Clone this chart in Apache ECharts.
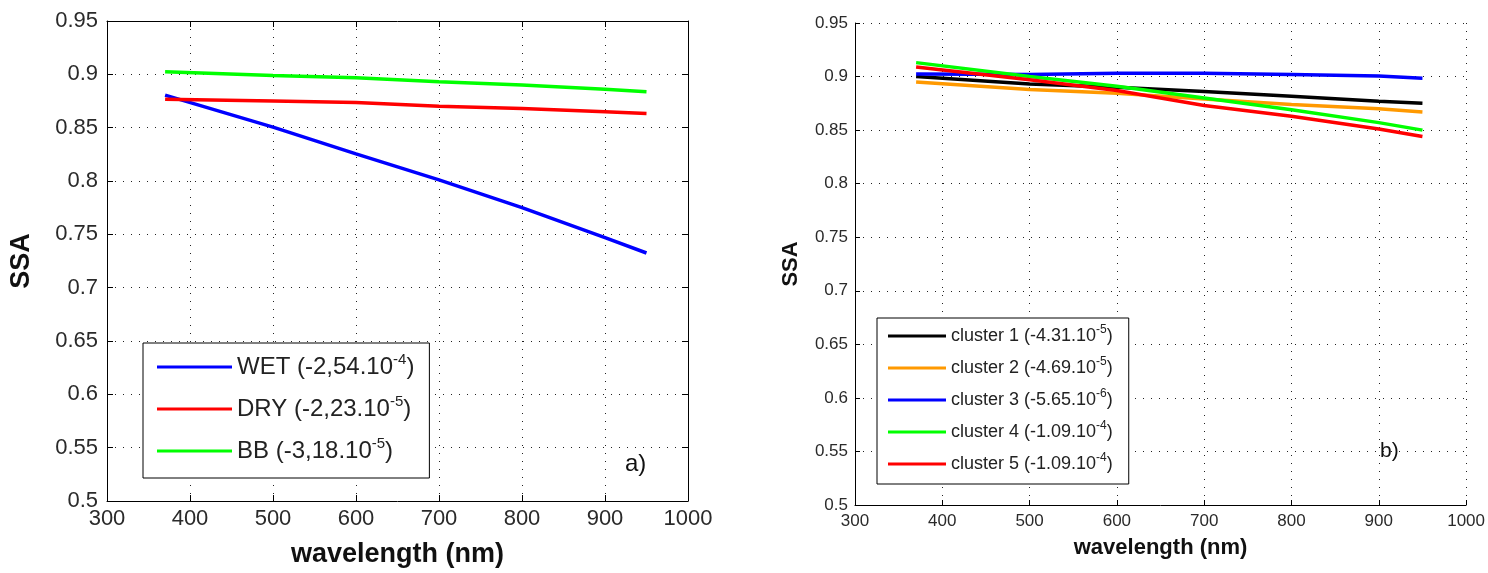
<!DOCTYPE html>
<html><head><meta charset="utf-8">
<script src="https://cdn.jsdelivr.net/npm/echarts@6/dist/echarts.min.js"></script>
<style>html,body{margin:0;padding:0;background:#fff}#c{width:1488px;height:573px}</style>
</head><body><div id="c"></div>
<script>
// ---- data ----
const wavelengths = [370, 500, 600, 700, 800, 900, 950];
const xTicks = [300, 400, 500, 600, 700, 800, 900, 1000];
const yTicks = [0.5, 0.55, 0.6, 0.65, 0.7, 0.75, 0.8, 0.85, 0.9, 0.95];

const wetSSA = [0.8805, 0.8505, 0.8255, 0.801, 0.775, 0.747, 0.7325];
const drySSA = [0.8766, 0.875, 0.8735, 0.870, 0.868, 0.865, 0.8633];
const bbSSA  = [0.9025, 0.899, 0.8967, 0.893, 0.890, 0.886, 0.8837];

const cluster1SSA = [0.900, 0.893, 0.890, 0.886, 0.8815, 0.877, 0.875];
const cluster2SSA = [0.895, 0.888, 0.8845, 0.879, 0.874, 0.870, 0.867];
const cluster3SSA = [0.9025, 0.902, 0.903, 0.903, 0.902, 0.9005, 0.8985];
const cluster4SSA = [0.913, 0.900, 0.891, 0.880, 0.869, 0.857, 0.850];
const cluster5SSA = [0.909, 0.897, 0.887, 0.873, 0.863, 0.851, 0.844];

const leftNames = ['WET', 'DRY', 'BB'];
const leftCoefs = ['-2,54.10', '-2,23.10', '-3,18.10'];
const leftExps  = ['-4', '-5', '-5'];
const rightNames = ['cluster 1', 'cluster 2', 'cluster 3', 'cluster 4', 'cluster 5'];
const rightCoefs = ['-4.31.10', '-4.69.10', '-5.65.10', '-1.09.10', '-1.09.10'];
const rightExps  = ['-5', '-5', '-6', '-4', '-4'];

// ---- build ----
const pairs = arr => arr.map((v, i) => [wavelengths[i], v]);
const FONT = 'Liberation Sans, Arial, sans-serif';
const dotted = { color: '#222', width: 1, type: [1, 7] };
const labelMap = {};
leftNames.forEach((n, i) => labelMap[n] = n + ' (' + leftCoefs[i] + '{sup|' + leftExps[i] + '})');
rightNames.forEach((n, i) => labelMap[n] = n + ' (' + rightCoefs[i] + '{sup|' + rightExps[i] + '})');

function xAx(grid, opts) {
  return Object.assign({
    gridIndex: grid, type: 'value', min: xTicks[0], max: xTicks[xTicks.length - 1], interval: 100,
    axisLine: { show: true, onZero: false, lineStyle: { color: '#000', width: 1 } },
    axisTick: { show: true, inside: true, length: 6, lineStyle: { color: '#000' } },
    splitLine: { show: false }
  }, opts);
}
function yAx(grid, opts) {
  return Object.assign({
    gridIndex: grid, type: 'value', min: yTicks[0], max: yTicks[yTicks.length - 1], interval: 0.05,
    axisLine: { show: true, onZero: false, lineStyle: { color: '#000', width: 1 } },
    axisTick: { show: true, inside: true, length: 6, lineStyle: { color: '#000' } },
    splitLine: { show: false }
  }, opts);
}
const yFmt = v => String(+v.toFixed(2));
const xFmt = v => String(Math.round(v));

const option = {
  backgroundColor: '#fff',
  animation: false,
  textStyle: { fontFamily: FONT },
  grid: [
    { left: 107, top: 21, width: 581, height: 484 },
    { left: 855, top: 23, width: 614, height: 482 }
  ],
  xAxis: [
    xAx(0, { position: 'bottom',
      axisLabel: { fontSize: 22, color: '#2a2a2a', margin: 7, fontFamily: FONT, formatter: xFmt },
      splitLine: { show: true, lineStyle: dotted },
      name: 'wavelength (nm)', nameLocation: 'middle', nameGap: 40,
      nameTextStyle: { fontSize: 27, fontWeight: 'bold', color: '#111', fontFamily: FONT } }),
    xAx(0, { position: 'top', axisLabel: { show: false } }),
    xAx(1, { position: 'bottom',
      axisTick: { show: true, inside: true, length: 5, lineStyle: { color: '#000' } },
      axisLabel: { fontSize: 17, color: '#2a2a2a', margin: 8, fontFamily: FONT, formatter: xFmt },
      splitLine: { show: true, lineStyle: dotted },
      name: 'wavelength (nm)', nameLocation: 'middle', nameGap: 32,
      nameTextStyle: { fontSize: 22, fontWeight: 'bold', color: '#111', fontFamily: FONT } })
  ],
  yAxis: [
    yAx(0, { position: 'left',
      axisLabel: { fontSize: 22, color: '#2a2a2a', margin: 9, fontFamily: FONT, formatter: yFmt },
      splitLine: { show: true, lineStyle: dotted },
      name: 'SSA', nameLocation: 'middle', nameGap: 72,
      nameTextStyle: { fontSize: 27, fontWeight: 'bold', color: '#111', fontFamily: FONT } }),
    yAx(0, { position: 'right', axisLabel: { show: false } }),
    yAx(1, { position: 'left',
      axisTick: { show: true, inside: true, length: 5, lineStyle: { color: '#000' } },
      axisLabel: { fontSize: 17, color: '#2a2a2a', margin: 7, fontFamily: FONT, formatter: yFmt },
      splitLine: { show: true, lineStyle: dotted },
      name: 'SSA', nameLocation: 'middle', nameGap: 53,
      nameTextStyle: { fontSize: 22, fontWeight: 'bold', color: '#111', fontFamily: FONT } })
  ],
  legend: [
    { data: leftNames, orient: 'vertical', left: 143, top: 343,
      icon: 'rect', itemWidth: 75, itemHeight: 3, itemGap: 12,
      padding: [9, 15, 12, 14], borderColor: '#000', borderWidth: 1, backgroundColor: '#fff',
      selectedMode: false,
      formatter: n => labelMap[n],
      textStyle: { fontSize: 24, color: '#222', lineHeight: 30, fontFamily: FONT,
        rich: { sup: { fontSize: 15, color: '#222', verticalAlign: 'top', lineHeight: 15, fontFamily: FONT } } } },
    { data: rightNames, orient: 'vertical', left: 877, top: 318,
      icon: 'rect', itemWidth: 58, itemHeight: 3, itemGap: 8,
      padding: [6, 16, 8, 11], borderColor: '#000', borderWidth: 1, backgroundColor: '#fff',
      selectedMode: false,
      formatter: n => labelMap[n],
      textStyle: { fontSize: 18, color: '#222', lineHeight: 24, fontFamily: FONT,
        rich: { sup: { fontSize: 12, color: '#222', verticalAlign: 'top', lineHeight: 12, fontFamily: FONT } } } }
  ],
  graphic: [
    { type: 'text', left: 625, top: 452, style: { text: 'a)', fontSize: 24, fill: '#111', fontFamily: FONT } },
    { type: 'text', left: 1380, top: 441, style: { text: 'b)', fontSize: 21, fill: '#111', fontFamily: FONT } }
  ],
  series: [
    { name: 'WET', type: 'line', xAxisIndex: 0, yAxisIndex: 0, data: pairs(wetSSA), color: '#0000ff' },
    { name: 'DRY', type: 'line', xAxisIndex: 0, yAxisIndex: 0, data: pairs(drySSA), color: '#ff0000' },
    { name: 'BB', type: 'line', xAxisIndex: 0, yAxisIndex: 0, data: pairs(bbSSA), color: '#00ff00' },
    { name: 'cluster 1', type: 'line', xAxisIndex: 2, yAxisIndex: 2, data: pairs(cluster1SSA), color: '#000000' },
    { name: 'cluster 2', type: 'line', xAxisIndex: 2, yAxisIndex: 2, data: pairs(cluster2SSA), color: '#ff9900' },
    { name: 'cluster 3', type: 'line', xAxisIndex: 2, yAxisIndex: 2, data: pairs(cluster3SSA), color: '#0000ff' },
    { name: 'cluster 4', type: 'line', xAxisIndex: 2, yAxisIndex: 2, data: pairs(cluster4SSA), color: '#00ff00' },
    { name: 'cluster 5', type: 'line', xAxisIndex: 2, yAxisIndex: 2, data: pairs(cluster5SSA), color: '#ff0000' }
  ].map(s => Object.assign(s, { symbol: 'none', showSymbol: false, lineStyle: { width: 3.5 }, z: 3 }))
};
const chart = echarts.init(document.getElementById('c'), null, { renderer: 'canvas' });
chart.setOption(option);
</script>
</body></html>
